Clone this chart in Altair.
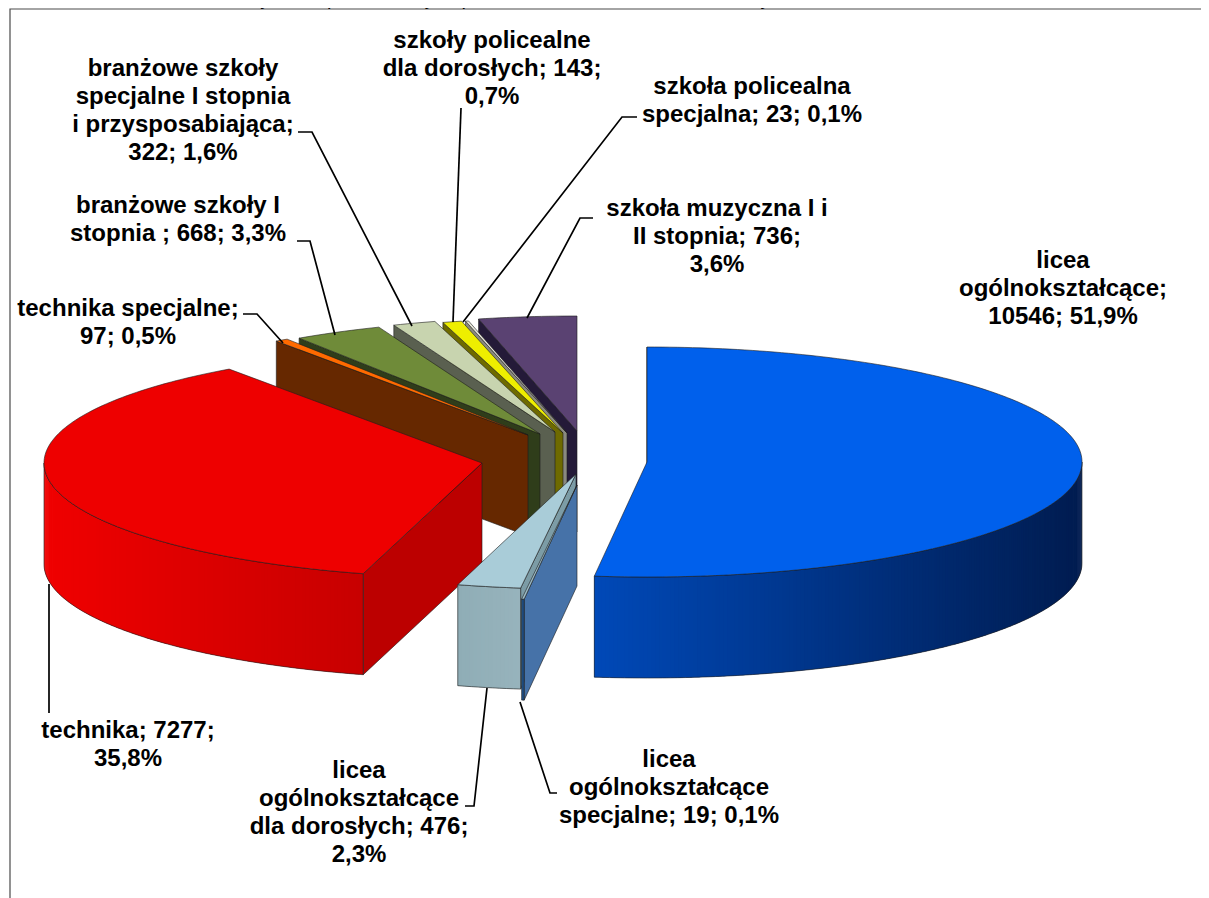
import math
import altair as alt
import pandas as pd

# ---- chart values (clockwise from 12 o'clock) ----
categories = ["licea ogólnokształcące", "licea ogólnokształcące specjalne",
              "licea ogólnokształcące dla dorosłych", "technika", "technika specjalne",
              "branżowe szkoły I stopnia", "branżowe szkoły specjalne I stopnia i przysposabiająca",
              "szkoły policealne dla dorosłych", "szkoła policealna specjalna",
              "szkoła muzyczna I i II stopnia"]
values = [10546, 19, 476, 7277, 97, 668, 322, 143, 23, 736]
label_texts = ["licea\nogólnokształcące;\n10546; 51,9%",
               "licea\nogólnokształcące\nspecjalne; 19; 0,1%",
               "licea\nogólnokształcące\ndla dorosłych; 476;\n2,3%",
               "technika; 7277;\n35,8%",
               "technika specjalne;\n97; 0,5%",
               "branżowe szkoły I\nstopnia ; 668; 3,3%",
               "branżowe szkoły\nspecjalne I stopnia\ni przysposabiająca;\n322; 1,6%",
               "szkoły policealne\ndla dorosłych; 143;\n0,7%",
               "szkoła policealna\nspecjalna; 23; 0,1%",
               "szkoła muzyczna I i\nII stopnia; 736;\n3,6%"]
title_text = "Struktura uczniów i słuchaczy szkół prowadzonych przez miasto Lublin w roku szkolnym 2019/2020."

# ---- styles ----
top_colors = ["#0060EC", "#9DBDC9", "#A9CCD8", "#EE0000", "#FF6A00", "#6F8B39", "#C8D4AF", "#EEEE00", "#E4E4D8", "#5A4272"]
wall_colors = ["#00358F", "#4672A8", "#7C9CA6", "#BC0000", "#662800", "#2F3D1A", "#5A6050", "#6E6A00", "#8A8A80", "#241A38"]
rim_left = ["#0049B8", "#1F4F86", "#8FADB6", "#F00000", "#662800", "#2F3D1A", "#5A6050", "#6E6A00", "#8A8A80", "#241A38"]
rim_right = ["#001C50", "#1F4F86", "#97B3BC", "#C80000", "#662800", "#2F3D1A", "#5A6050", "#6E6A00", "#8A8A80", "#241A38"]

# ---- layout: pixel position of each exploded slice's apex, pie radii, depth ----
apex = [(647, 462), (577, 485), (576, 474), (482, 463), (528, 435),
        (540, 434), (555, 432), (563, 433), (567, 433), (577, 431)]
radius_x = [435, 436, 436, 438, 436, 436, 436, 436, 436, 436]
RY, DEPTH = 115, 101
label_pos = [(1063, 261), (669, 760), (359, 771), (128, 731), (128, 309),
             (178, 206), (183, 69), (492, 41), (752, 87), (717, 209)]
leaders = [[],
           [(557, 793), (550, 793), (520, 702)],
           [(465, 806), (474, 806), (487, 688)],
           [(49, 584), (49, 713)],
           [(243, 314), (257, 314), (283, 343)],
           [(297, 241), (310, 241), (335, 335)],
           [(298, 132), (312, 132), (412, 326)],
           [(461, 108), (453, 322)],
           [(637, 117), (622, 117), (463, 322)],
           [(593, 218), (580, 218), (527, 318)]]
frame = [(10, 898), (10, 9), (1201, 9)]
OUTLINE = "#1c1c1c"


def hex_mix(c1, c2, t):
    a = [int(c1[i:i + 2], 16) for i in (1, 3, 5)]
    b = [int(c2[i:i + 2], 16) for i in (1, 3, 5)]
    return "#%02x%02x%02x" % tuple(round(p + (q - p) * t) for p, q in zip(a, b))


def rim_pt(c, rx, deg):
    r = math.radians(deg)
    return (c[0] + rx * math.sin(r), c[1] - RY * math.cos(r))


def arc(c, rx, a0, a1, step=1.0):
    n = max(2, int(abs(a1 - a0) / step) + 2)
    return [rim_pt(c, rx, a0 + (a1 - a0) * i / (n - 1)) for i in range(n)]


def feature(pts, fill, stroke, sw):
    ring = [list(p) for p in pts] + [list(pts[0])]
    return {"type": "Feature",
            "geometry": {"type": "Polygon", "coordinates": [ring]},
            "properties": {"fill": fill, "stroke": stroke, "sw": sw}}


total = sum(values)
cum = [0]
for v in values:
    cum.append(cum[-1] + v)
angles = [(cum[i] / total * 360, cum[i + 1] / total * 360) for i in range(len(values))]

features = []
for i in [9, 8, 7, 6, 5, 4, 3, 2, 1, 0]:
    a0, a1 = angles[i]
    c = apex[i]
    rx = radius_x[i]
    # cut face on the leading edge
    o = rim_pt(c, rx, a0)
    features.append(feature([c, o, (o[0], o[1] + DEPTH), (c[0], c[1] + DEPTH)],
                            wall_colors[i], OUTLINE, 0.6))
    # front rim: overlapping strips, each painted over the tail of the previous one
    lo, hi = max(a0, 90), min(a1, 270)
    if hi > lo:
        xl = min(rim_pt(c, rx, lo)[0], rim_pt(c, rx, hi)[0])
        xr = max(rim_pt(c, rx, lo)[0], rim_pt(c, rx, hi)[0])
        n = max(1, int((hi - lo) * 2))
        for k in range(n):
            s0 = lo + (hi - lo) * k / n
            s1 = min(hi, lo + (hi - lo) * (k + 2) / n)
            seg = arc(c, rx, s0, s1, 0.5)
            xm = rim_pt(c, rx, s0)[0]
            t = (xm - xl) / max(xr - xl, 1)
            col = hex_mix(rim_left[i], rim_right[i], t)
            features.append(feature(seg + [(x, y + DEPTH) for x, y in reversed(seg)], col, "transparent", 0))
        seg = arc(c, rx, lo, hi)
        features.append(feature(seg + [(x, y + DEPTH) for x, y in reversed(seg)],
                                "transparent", OUTLINE, 0.6))
    # top face
    features.append(feature([c] + arc(c, rx, a0, a1), top_colors[i], OUTLINE, 0.6))

shapes = alt.Chart(alt.InlineData(values={"type": "FeatureCollection", "features": features},
                                  format=alt.DataFormat(property="features", type="json"))).mark_geoshape(
    strokeJoin="round"
).encode(
    fill=alt.Fill("properties.fill:N", scale=None),
    stroke=alt.Stroke("properties.stroke:N", scale=None),
    strokeWidth=alt.StrokeWidth("properties.sw:Q", scale=None),
).project(type="identity", scale=1, translate=[-8, -8])

X = alt.X("x:Q", scale=alt.Scale(domain=[8, 1201], range=[0, 1193], nice=False, zero=False), axis=None)
Y = alt.Y("y:Q", scale=alt.Scale(domain=[8, 898], range=[0, 890], nice=False, zero=False), axis=None)

leader_rows = [{"k": categories[i], "o": j, "x": p[0], "y": p[1]}
               for i, line in enumerate(leaders) for j, p in enumerate(line)]
leader_marks = alt.Chart(pd.DataFrame(leader_rows)).mark_line(color="#000000", strokeWidth=1.7).encode(
    x=X, y=Y, detail="k:N", order="o:Q")

frame_marks = alt.Chart(pd.DataFrame([{"o": j, "x": p[0], "y": p[1]} for j, p in enumerate(frame)])).mark_line(
    color="#4a4a4a", strokeWidth=1.2).encode(x=X, y=Y, order="o:Q")

label_df = pd.DataFrame({"t": label_texts, "x": [p[0] for p in label_pos], "y": [p[1] for p in label_pos]})
labels = alt.Chart(label_df).mark_text(font="Liberation Sans", fontSize=24, fontWeight="bold", color="#000000",
                                       lineBreak="\n", lineHeight=28, align="center", baseline="middle").encode(
    x=X, y=Y, text="t:N")

title = alt.Chart(pd.DataFrame({"t": [title_text], "x": [8], "y": [5]})).mark_text(
    font="Liberation Sans", fontSize=20, color="#000000", align="left", baseline="alphabetic").encode(
    x=X, y=Y, text="t:N")

chart = alt.layer(frame_marks, title, shapes, leader_marks, labels).properties(
    width=1193, height=890, padding=0, autosize=alt.AutoSizeParams(type="none")
).configure_view(stroke=None)

chart.save("out.html", embed_options={"renderer": "svg", "actions": False})
